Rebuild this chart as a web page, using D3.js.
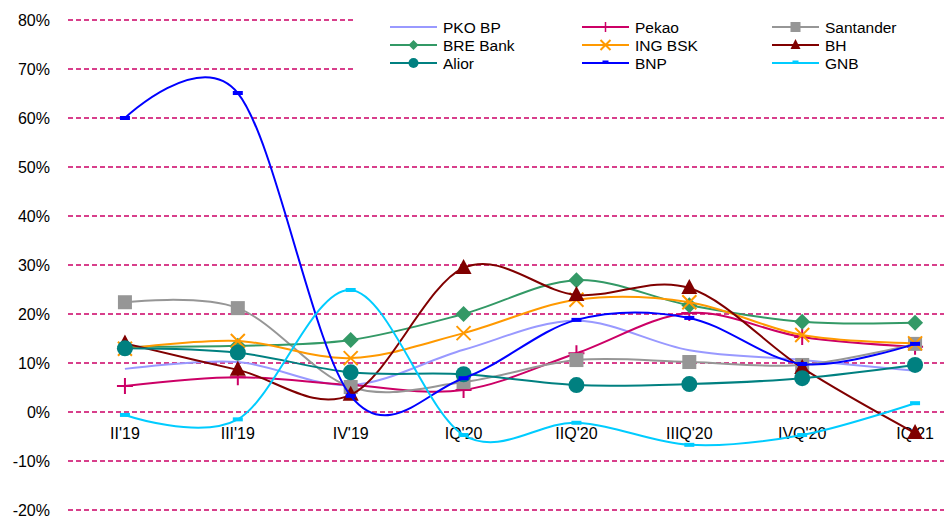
<!DOCTYPE html>
<html><head><meta charset="utf-8">
<script src="https://cdn.jsdelivr.net/npm/d3@7"></script>
<style>body{margin:0;background:#fff}svg{display:block;font-family:Arial,"Liberation Sans",sans-serif}</style>
</head><body><svg id="c" width="944" height="518"></svg>
<script>
const categories = ["II'19","III'19","IV'19","IQ'20","IIQ'20","IIIQ'20","IVQ'20","IQ'21"];
const yTicks = [-20,-10,0,10,20,30,40,50,60,70,80];
const seriesNames = ["PKO BP","Pekao","Santander","BRE Bank","ING BSK","BH","Alior","BNP","GNB"];
const pkoBP    = [8.8,10.2,5.5,12.7,18.6,12.6,10.6,8.4];
const pekao    = [5.3,7.1,5.5,4.5,12.0,20.2,15.3,13.3];
const santander= [22.4,21.2,5.1,6.1,10.6,10.2,9.6,13.9];
const breBank  = [13.3,13.5,14.7,20.0,26.9,21.8,18.4,18.2];
const ingBSK   = [12.9,14.5,11.0,16.1,22.9,22.4,15.7,14.0];
const bh       = [14.0,8.6,3.5,29.4,23.9,25.3,9.0,-4.3];
const alior    = [13.0,12.1,8.1,7.7,5.5,5.7,6.9,9.6];
const bnp      = [60.0,65.1,3.3,6.9,18.8,19.2,9.8,13.9];
const gnb      = [-0.6,-1.5,24.9,-4.7,-2.2,-6.7,-4.7,1.8];
const seriesValues = [pkoBP,pekao,santander,breBank,ingBSK,bh,alior,bnp,gnb];
const colors = ["#9999ff","#cc0066","#969696","#339966","#ff9900","#800000","#008080","#0000ff","#00ccff"];
const markers = ["none","plus","square","diamond","x","triangle","circle","dash","dash"];

const svg = d3.select("#c");
const x = d3.scaleBand().domain(categories).range([68.5, 971.5]);
const y = d3.scaleLinear().domain([-20,80]).range([510,20]);
const cx = c => x(c) + x.bandwidth()/2;

// grid
svg.append("g").selectAll("line").data(yTicks).join("line")
  .attr("x1",68).attr("x2",944).attr("y1",d=>y(d)).attr("y2",d=>y(d))
  .attr("stroke","#cc0066").attr("stroke-width",1.5).attr("stroke-dasharray","5,3");
// y labels
svg.append("g").selectAll("text").data(yTicks).join("text")
  .attr("x",50).attr("y",d=>y(d)).attr("dy","0.36em").attr("text-anchor","end")
  .attr("font-size",16).attr("fill","#000").text(d=>d+"%");
// x labels
svg.append("g").selectAll("text").data(categories).join("text")
  .attr("x",d=>cx(d)).attr("y",y(0)+21).attr("dy","0.36em").attr("text-anchor","middle")
  .attr("font-size",16).attr("fill","#000").text(d=>d);

function drawMarker(g, type, color, px, py) {
  if (type==="square") g.append("rect").attr("x",px-7).attr("y",py-7).attr("width",14).attr("height",14).attr("fill",color);
  else if (type==="circle") g.append("circle").attr("cx",px).attr("cy",py).attr("r",8).attr("fill",color);
  else if (type==="diamond") g.append("path").attr("d",`M${px},${py-8}L${px+8},${py}L${px},${py+8}L${px-8},${py}Z`).attr("fill",color);
  else if (type==="triangle") g.append("path").attr("d",`M${px},${py-9}L${px+8},${py+6}L${px-8},${py+6}Z`).attr("fill",color);
  else if (type==="x") g.append("path").attr("d",`M${px-7},${py-7}L${px+7},${py+7}M${px-7},${py+7}L${px+7},${py-7}`).attr("stroke",color).attr("stroke-width",2);
  else if (type==="plus") g.append("path").attr("d",`M${px-8},${py}L${px+8},${py}M${px},${py-8}L${px},${py+8}`).attr("stroke",color).attr("stroke-width",2);
  else if (type==="dash") g.append("rect").attr("x",px-5).attr("y",py-2).attr("width",10).attr("height",4).attr("fill",color);
}

const line = d3.line().x((d,i)=>cx(categories[i])).y(d=>y(d)).curve(d3.curveCatmullRom.alpha(0));
seriesValues.forEach((vals,si)=>{
  const g = svg.append("g");
  g.append("path").datum(vals).attr("d",line).attr("fill","none").attr("stroke",colors[si]).attr("stroke-width",2);
  if (markers[si]!=="none") vals.forEach((v,i)=>drawMarker(g,markers[si],colors[si],cx(categories[i]),y(v)));
});

// legend
const lg = svg.append("g");
lg.append("rect").attr("x",356).attr("y",8).attr("width",600).attr("height",72).attr("fill","#fff");
const colX = [390,582,772];
const rowY = [27,45,63];
seriesNames.forEach((n,i)=>{
  const c = i%3, r = Math.floor(i/3);
  const x0 = colX[c], yy = rowY[r];
  lg.append("line").attr("x1",x0).attr("x2",x0+47).attr("y1",yy).attr("y2",yy).attr("stroke",colors[i]).attr("stroke-width",2);
  if (markers[i]!=="none") {
    const mg = lg.append("g");
    const t = markers[i];
    const px = x0+23.5;
    if (t==="square") mg.append("rect").attr("x",px-5).attr("y",yy-5).attr("width",10).attr("height",10).attr("fill",colors[i]);
    else if (t==="circle") mg.append("circle").attr("cx",px).attr("cy",yy).attr("r",5).attr("fill",colors[i]);
    else if (t==="diamond") mg.append("path").attr("d",`M${px},${yy-5}L${px+5},${yy}L${px},${yy+5}L${px-5},${yy}Z`).attr("fill",colors[i]);
    else if (t==="triangle") mg.append("path").attr("d",`M${px},${yy-6}L${px+5},${yy+4}L${px-5},${yy+4}Z`).attr("fill",colors[i]);
    else if (t==="x") mg.append("path").attr("d",`M${px-5},${yy-5}L${px+5},${yy+5}M${px-5},${yy+5}L${px+5},${yy-5}`).attr("stroke",colors[i]).attr("stroke-width",2);
    else if (t==="plus") mg.append("path").attr("d",`M${px},${yy-5}L${px},${yy+5}`).attr("stroke",colors[i]).attr("stroke-width",1.5);
    else if (t==="dash") mg.append("rect").attr("x",px-3).attr("y",yy-2.5).attr("width",6).attr("height",3).attr("fill",colors[i]);
  }
  lg.append("text").attr("x",x0+53).attr("y",yy).attr("dy","0.36em").attr("font-size",15.5).attr("fill","#000").text(n);
});
</script></body></html>
